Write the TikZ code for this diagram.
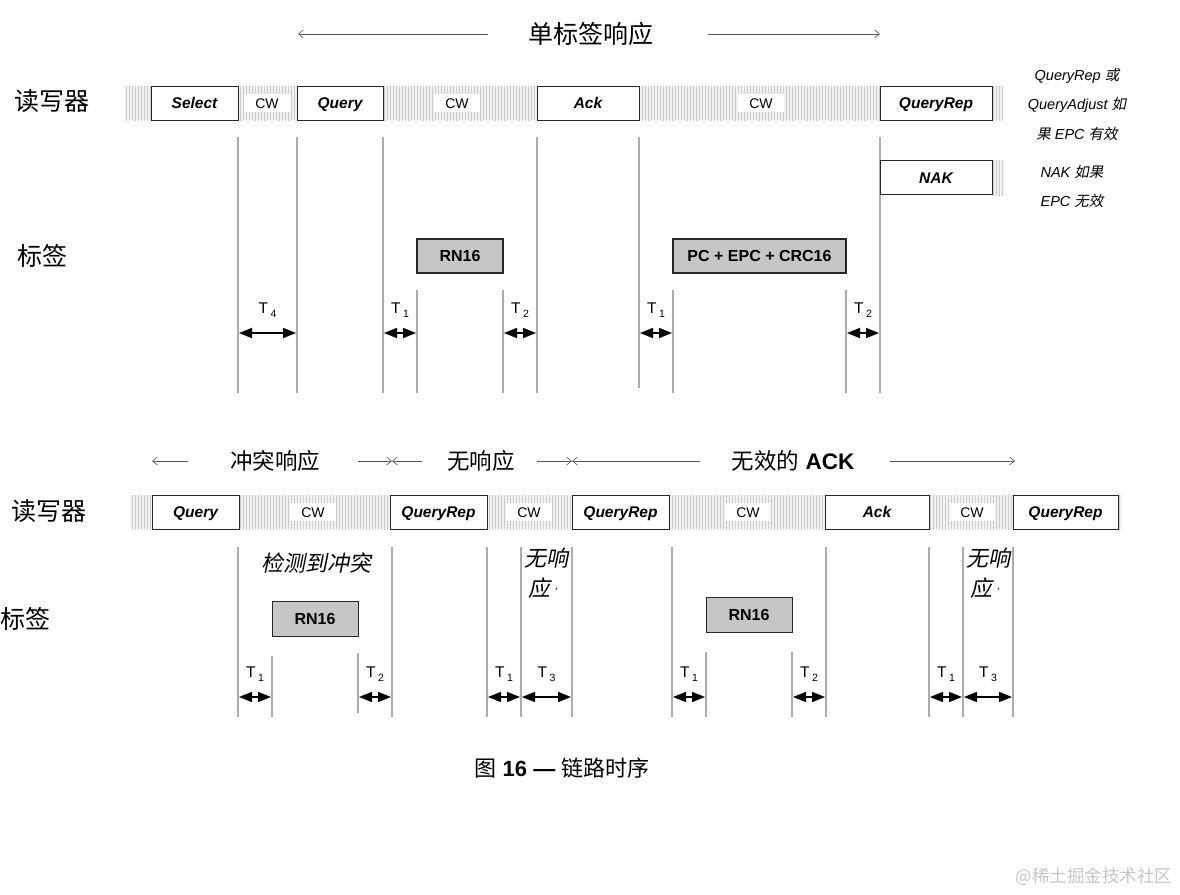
\documentclass[tikz,border=0pt]{standalone}
\usepackage{fontspec}
\setmainfont{Liberation Sans}
\newfontfamily\cjk{Noto Sans CJK SC}
\newfontfamily\cjkit[FakeSlant=0.2]{Noto Sans CJK SC}
\usetikzlibrary{positioning,arrows.meta,patterns}
\newcommand{\fsz}[1]{\fontsize{#1}{#1}\selectfont}
\newcommand{\tsub}[1]{T\,\raisebox{-4pt}{\fsz{10.5}#1}}

\begin{document}
\begin{tikzpicture}[
  x=1pt, y=-1pt,
  cmd/.style={rectangle, draw=black!85, line width=0.9pt, fill=white, minimum height=34pt,
              inner sep=0pt, text height=12pt, text depth=1pt,
              font=\fsz{15.5}\bfseries\itshape},
  cw/.style={rectangle, fill=white, minimum width=46pt, minimum height=18pt,
             inner sep=0pt, text height=10pt, text depth=0pt, font=\fsz{14}},
  reply/.style={rectangle, draw=black!85, line width=0.9pt, fill=gray!45, minimum height=34pt,
                inner sep=0pt, text height=11.5pt, text depth=0pt, font=\fsz{16}\bfseries},
  band/.style={fill=gray!10, postaction={pattern=vertical lines, pattern color=gray!40}},
  tline/.style={draw=gray!65, line width=2pt},
  tdim/.style={{Triangle[length=13pt,width=10pt]}-{Triangle[length=13pt,width=10pt]},
               line width=1.6pt, shorten <=1pt, shorten >=1pt},
  span/.style={-{Straight Barb[length=5pt,width=8pt]}, draw=gray!70!black, line width=0.6pt},
  tlbl/.style={font=\fsz{15.5}, inner sep=0pt},
  zh/.style={font=\cjk\fsz{25}, inner sep=0pt},
  note/.style={font=\fsz{14.5}\itshape, inner sep=0pt}
]
  \useasboundingbox (0,0) rectangle (1180,894);

  % ---- single tag reply (top) ----
  \node[zh] (ttop) at (591,34) {单标签响应};
  \draw[span] (488,34) -- (298,34);
  \draw[span] (708,34) -- (880,34);

  \node[zh] (rdA) at (52,101) {读写器};
  \node[zh] (tgA) at (42,256) {标签};

  % reader band
  \fill[band] (125,86) rectangle (1003,120);
  \fill[band] (992,160) rectangle (1004,195);

  \node[cmd, minimum width=87pt] (selA) at (194.5,103) {Select};
  \node[cw] (cwA1) at (267,103) {CW};
  \node[cmd, minimum width=86pt] (qryA) at (340,103) {Query};
  \node[cw] (cwA2) at (457,103) {CW};
  \node[cmd, minimum width=102pt] (ackA) at (588,103) {Ack};
  \node[cw] (cwA3) at (761,103) {CW};

  % time lines
  \foreach \x in {238,297,383,537,880}
    \draw[tline] (\x,137) -- (\x,393);
  \draw[tline] (639,137) -- (639,388);
  \foreach \x in {417,503,673,846}
    \draw[tline] (\x,290) -- (\x,393);

  \node[cmd, minimum width=112pt] (qrpA) at (936,103) {QueryRep};
  \node[cmd, minimum width=112pt] (nakA) at (936,177.5) {NAK};

  % notes on the right
  \node[note] (nt1) at (1077,76) {QueryRep {\cjkit 或}};
  \node[note] (nt2) at (1077,105) {QueryAdjust {\cjkit 如}};
  \node[note] (nt3) at (1077,134) {{\cjkit 果} EPC {\cjkit 有效}};
  \node[note] (nt4) at (1072,172) {NAK {\cjkit 如果}};
  \node[note] (nt5) at (1072,201) {EPC {\cjkit 无效}};

  % tag replies
  \node[reply, line width=2pt, minimum width=86pt] (rnA) at (460,256) {RN16};
  \node[reply, line width=1.2pt, minimum width=173pt] (epcA) at (759.5,256) {PC + EPC + CRC16};

  % timing intervals
  \foreach \a/\b/\n in {238/297/4, 383/417/1, 503/537/2, 639/673/1, 846/880/2}
    \draw[tdim] (\a,333) -- node[tlbl, yshift=23pt] {\tsub{\n}} (\b,333);

  % ---- collided, no and invalid reply (bottom) ----
  \node[zh, font=\cjk\fsz{22.5}] (tcol) at (275,461) {冲突响应};
  \node[zh, font=\cjk\fsz{22.5}] (tnon) at (481,461) {无响应};
  \node[zh, font=\fsz{22.5}] (tinv) at (793,461) {{\cjk 无效的} \bfseries ACK};
  \draw[span] (188,461) -- (152,461);
  \draw[span] (358,461) -- (392,461);
  \draw[span] (422,461) -- (392,461);
  \draw[span] (537,461) -- (572,461);
  \draw[span] (700,461) -- (572,461);
  \draw[span] (890,461) -- (1015,461);

  \node[zh] (rdB) at (49,511) {读写器};
  \node[zh] (tgB) at (25,619) {标签};

  % reader band
  \fill[band] (130,495) rectangle (1122,529);

  \node[cmd, minimum width=87pt] (qryB) at (195.5,512) {Query};
  \node[cw] (cwB1) at (313,512) {CW};
  \node[cmd, minimum width=97pt] (qrpB1) at (438.5,512) {QueryRep};
  \node[cw] (cwB2) at (529,512) {CW};
  \node[cmd, minimum width=97pt] (qrpB2) at (620.5,512) {QueryRep};
  \node[cw] (cwB3) at (748,512) {CW};
  \node[cmd, minimum width=104pt] (ackB) at (877,512) {Ack};
  \node[cw] (cwB4) at (972,512) {CW};
  \node[cmd, minimum width=105pt] (qrpB3) at (1065.5,512) {QueryRep};

  % time lines
  \foreach \x in {238,392,487,521,572,672,826,929,963,1013}
    \draw[tline] (\x,547) -- (\x,717);
  \draw[tline] (272,656) -- (272,717);
  \draw[tline] (358,653) -- (358,713);
  \draw[tline] (706,652) -- (706,717);
  \draw[tline] (792,652) -- (792,717);

  \node[font=\cjkit\fsz{22}, inner sep=0pt] (det) at (316,563) {检测到冲突};
  \node[font=\cjkit\fontsize{22}{30}\selectfont, align=center, inner sep=0pt] (nr1) at (546,573)
    {无响\\应\,{\fsz{10}’}};
  \node[font=\cjkit\fontsize{22}{30}\selectfont, align=center, inner sep=0pt] (nr2) at (988,573)
    {无响\\应\,{\fsz{10}’}};

  % tag replies
  \node[reply, minimum width=86pt, minimum height=35pt] (rnB1) at (315,618.5) {RN16};
  \node[reply, minimum width=86pt, minimum height=35pt] (rnB2) at (749,614.5) {RN16};

  % timing intervals
  \foreach \a/\b/\n in {238/272/1, 358/392/2, 487/521/1, 521/572/3,
                        672/706/1, 792/826/2, 929/963/1, 963/1013/3}
    \draw[tdim] (\a,697) -- node[tlbl, yshift=23pt] {\tsub{\n}} (\b,697);

  % caption and mark
  \node[font=\fsz{22}, inner sep=0pt] (cap) at (562,768)
    {{\cjk 图} \textbf{16 —} {\cjk 链路时序}};
  \node[font=\cjk\fsz{17.5}, text=gray!45, inner sep=0pt] (mark) at (1094,877)
    {@稀土掘金技术社区};
\end{tikzpicture}
\end{document}
